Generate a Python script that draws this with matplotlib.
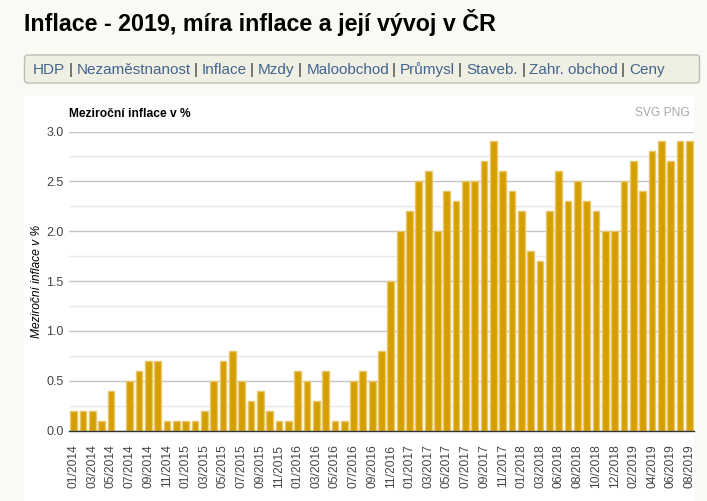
import matplotlib
matplotlib.use("Agg")
import matplotlib.pyplot as plt
from matplotlib.patches import FancyBboxPatch, Rectangle
from matplotlib.ticker import MultipleLocator

months = ["01/2014", "02/2014", "03/2014", "04/2014", "05/2014", "06/2014", "07/2014", "08/2014",
          "09/2014", "10/2014", "11/2014", "12/2014", "01/2015", "02/2015", "03/2015", "04/2015",
          "05/2015", "06/2015", "07/2015", "08/2015", "09/2015", "10/2015", "11/2015", "12/2015",
          "01/2016", "02/2016", "03/2016", "04/2016", "05/2016", "06/2016", "07/2016", "08/2016",
          "09/2016", "10/2016", "11/2016", "12/2016", "01/2017", "02/2017", "03/2017", "04/2017",
          "05/2017", "06/2017", "07/2017", "08/2017", "09/2017", "10/2017", "11/2017", "12/2017",
          "01/2018", "02/2018", "03/2018", "05/2018", "06/2018", "07/2018", "08/2018", "09/2018",
          "10/2018", "11/2018", "12/2018", "01/2019", "02/2019", "03/2019", "04/2019", "05/2019",
          "06/2019", "07/2019", "08/2019"]
inflace = [0.2, 0.2, 0.2, 0.1, 0.4, 0.0, 0.5, 0.6,
           0.7, 0.7, 0.1, 0.1, 0.1, 0.1, 0.2, 0.5,
           0.7, 0.8, 0.5, 0.3, 0.4, 0.2, 0.1, 0.1,
           0.6, 0.5, 0.3, 0.6, 0.1, 0.1, 0.5, 0.6,
           0.5, 0.8, 1.5, 2.0, 2.2, 2.5, 2.6, 2.0,
           2.4, 2.3, 2.5, 2.5, 2.7, 2.9, 2.6, 2.4,
           2.2, 1.8, 1.7, 2.2, 2.6, 2.3, 2.5, 2.3,
           2.2, 2.0, 2.0, 2.5, 2.7, 2.4, 2.8, 2.9,
           2.7, 2.9, 2.9]
menu = ["HDP", "Nezaměstnanost", "Inflace", "Mzdy", "Maloobchod", "Průmysl", "Staveb.", "Zahr. obchod", "Ceny"]
menu_x = [32.5, 76.6, 201.5, 258, 306.6, 400, 466, 529, 629.4]
sep_x = [68.5, 193.3, 249.5, 297.5, 391.5, 457.5, 521.5, 620.5]

W, H = 707, 501
plt.rcParams['font.family'] = ['Liberation Sans', 'DejaVu Sans']
fig = plt.figure(figsize=(W / 100, H / 100), dpi=100, facecolor="#fafaf5")


def fx(x):
    return x / W


def fy(y):
    return 1 - y / H


def fs(px):
    return px * 0.72


# white panel behind the chart
fig.add_artist(Rectangle((fx(24), 0), fx(694) - fx(24), fy(96), transform=fig.transFigure,
                         facecolor="white", edgecolor="none", zorder=-2))

# page heading and menu
fig.text(fx(24), fy(31), "Inflace - 2019, míra inflace a její vývoj v ČR", fontsize=fs(23.3),
         fontweight="bold", color="black", va="baseline")
fig.add_artist(FancyBboxPatch((24.5, H - 83), 675, 28, boxstyle="round,pad=0,rounding_size=3",
                              transform=None, facecolor="#efefe3", edgecolor="#bdbdb5", linewidth=1, zorder=-2))
for name, x in zip(menu, menu_x):
    fig.text(fx(x), fy(74), name, fontsize=fs(15.2), color="#42648f", va="baseline")
for x in sep_x:
    fig.text(fx(x), fy(74), "|", fontsize=fs(15.2), color="#333333", va="baseline")

# chart
ax = fig.add_axes([fx(69), fy(430.5), fx(694) - fx(69), fy(131.5) - fy(430.5)])
ax.patch.set_alpha(0)
pos = list(range(len(months)))
ax.bar(pos, inflace, width=0.72, color="#d69f00", edgecolor="#e8c66a", linewidth=1, zorder=3)
ax.set_xlim(-0.5, len(months) - 0.5)
ax.set_ylim(0, 3)

ax.yaxis.set_major_locator(MultipleLocator(0.5))
ax.yaxis.set_minor_locator(MultipleLocator(0.25))
ax.yaxis.set_major_formatter(lambda v, p: f"{v:.1f}")
ax.grid(True, axis="y", which="major", color="#c4c4c4", linewidth=1, zorder=1)
ax.grid(True, axis="y", which="minor", color="#e8e8e8", linewidth=1, zorder=1)
ax.set_axisbelow(True)
ax.tick_params(axis="y", which="both", length=0)
ax.tick_params(axis="y", which="major", labelsize=fs(12.5), labelcolor="#444444", pad=5.5 * 0.72)

ax.set_xticks(pos[::2])
ax.set_xticklabels(months[::2], rotation=90, fontsize=fs(12), color="#444444")
ax.tick_params(axis="x", length=0, pad=14 * 0.72)

for side in ["top", "left", "right"]:
    ax.spines[side].set_visible(False)
ax.spines["bottom"].set_color("#333333")
ax.spines["bottom"].set_linewidth(1)
ax.spines["bottom"].set_zorder(4)

fig.text(fx(37), fy(281), "Meziroční inflace v %", rotation=90, style="italic", fontsize=fs(12),
         color="black", ha="center", va="center")
fig.text(fx(69), fy(117), "Meziroční inflace v %", fontweight="bold", fontsize=fs(12), color="black")
fig.text(fx(690), fy(116), "SVG PNG", ha="right", fontsize=fs(12), color="#aaaaaa")

fig.savefig("out.png", dpi=100, facecolor=fig.get_facecolor())
